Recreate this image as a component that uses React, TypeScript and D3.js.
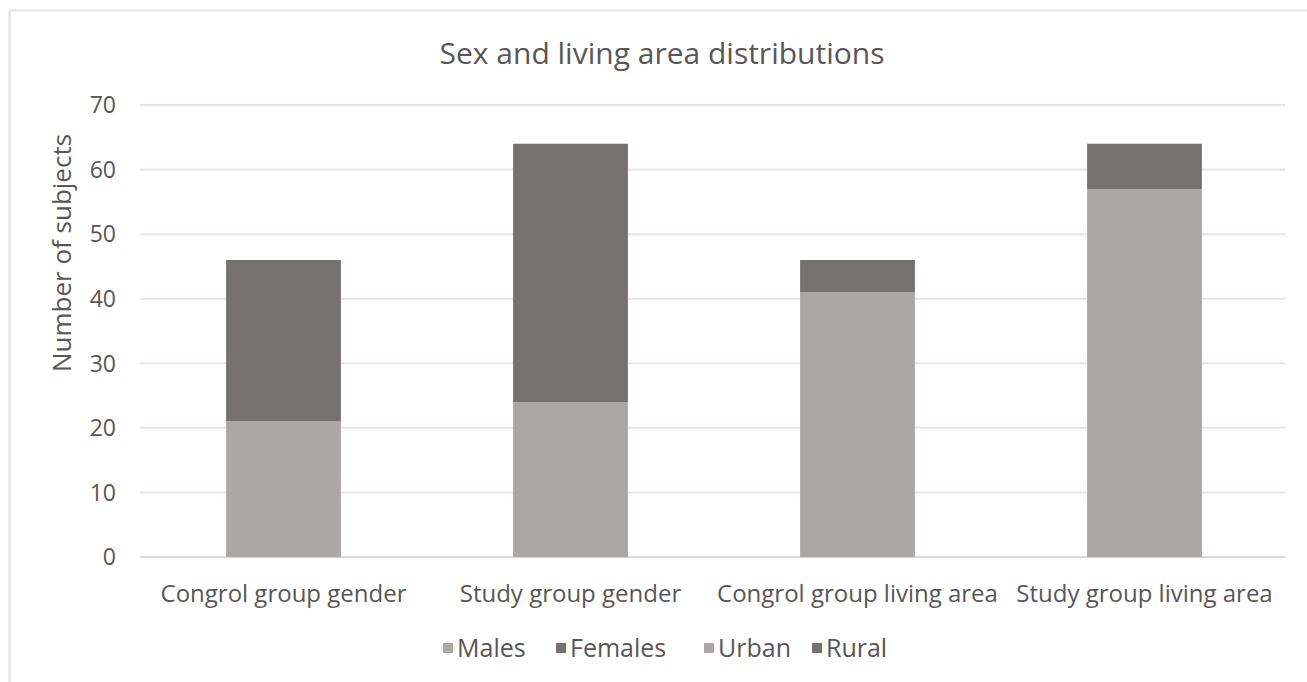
import React from "react";
import { scaleBand, scaleLinear, stack } from "d3";

// categories and series
const categories = [
  "Congrol group gender",
  "Study group gender",
  "Congrol group living area",
  "Study group living area",
];
const seriesNames = ["Males", "Females", "Urban", "Rural"];
const males = [21, 24, 0, 0];
const females = [25, 40, 0, 0];
const urban = [0, 0, 41, 57];
const rural = [0, 0, 5, 7];
const yTicks = [0, 10, 20, 30, 40, 50, 60, 70];

const colors: Record<string, string> = {
  Males: "#aaa7a6",
  Females: "#767170",
  Urban: "#aaa7a6",
  Rural: "#767170",
};

const W = 1307;
const H = 682;
const margin = { top: 105, right: 19, bottom: 125, left: 140 };
const textColor = "#595656";
const font = "'Open Sans', sans-serif";

export default function App() {
  const rows = categories.map((c, i) => ({
    cat: c,
    Males: males[i],
    Females: females[i],
    Urban: urban[i],
    Rural: rural[i],
  }));

  const x = scaleBand()
    .domain(categories)
    .range([margin.left, W - margin.right])
    .paddingInner(0.6)
    .paddingOuter(0.3);

  const y = scaleLinear()
    .domain([0, 70])
    .range([H - margin.bottom, margin.top]);

  const layers = stack<any>().keys(seriesNames)(rows);

  // legend layout
  const legendY = 648;
  const legendItems = [
    { name: "Males", x: 443 },
    { name: "Females", x: 556 },
    { name: "Urban", x: 704 },
    { name: "Rural", x: 812 },
  ];

  return (
    <div style={{ position: "absolute", left: 0, top: 0 }}>
      <svg width={W} height={H} style={{ display: "block", background: "#fff" }}>
        {/* chart frame */}
        <line x1={9.5} x2={9.5} y1={10} y2={H} stroke="#e6e0e0" strokeWidth={2} />
        <line x1={9} x2={W} y1={10.5} y2={10.5} stroke="#e6e0e0" strokeWidth={2} />

        <text
          x={662}
          y={64}
          textAnchor="middle"
          fontFamily={font}
          fontSize={30}
          fill={textColor}
        >
          Sex and living area distributions
        </text>

        {/* grid + y ticks */}
        {yTicks.map((t) => (
          <g key={t}>
            <line
              x1={margin.left}
              x2={W - margin.right - 3}
              y1={y(t)}
              y2={y(t)}
              stroke={t === 0 ? "#dcd6d6" : "#ebe3e3"}
              strokeWidth={2}
            />
            <text
              x={116}
              y={y(t)}
              dy="0.36em"
              textAnchor="end"
              fontFamily={font}
              fontSize={23}
              fill={textColor}
            >
              {t}
            </text>
          </g>
        ))}

        <text
          transform={`translate(71, 253) rotate(-90)`}
          textAnchor="middle"
          fontFamily={font}
          fontSize={26}
          fill={textColor}
        >
          Number of subjects
        </text>

        {/* bars */}
        {layers.map((layer) => (
          <g key={layer.key} fill={colors[layer.key]}>
            {layer.map((d, i) =>
              d[1] - d[0] > 0 ? (
                <rect
                  key={i}
                  x={x(categories[i])}
                  width={x.bandwidth()}
                  y={y(d[1])}
                  height={y(d[0]) - y(d[1])}
                />
              ) : null
            )}
          </g>
        ))}

        {/* category labels */}
        {categories.map((c) => (
          <text
            key={c}
            x={(x(c) as number) + x.bandwidth() / 2}
            y={602}
            textAnchor="middle"
            fontFamily={font}
            fontSize={24}
            fill={textColor}
          >
            {c}
          </text>
        ))}

        {/* legend */}
        {legendItems.map((l) => (
          <g key={l.name} transform={`translate(${l.x}, ${legendY})`}>
            <rect x={0} y={-5} width={10} height={10} fill={colors[l.name]} />
            <text
              x={14}
              y={0}
              dy="0.36em"
              fontFamily={font}
              fontSize={25}
              fill={textColor}
            >
              {l.name}
            </text>
          </g>
        ))}
      </svg>
    </div>
  );
}
